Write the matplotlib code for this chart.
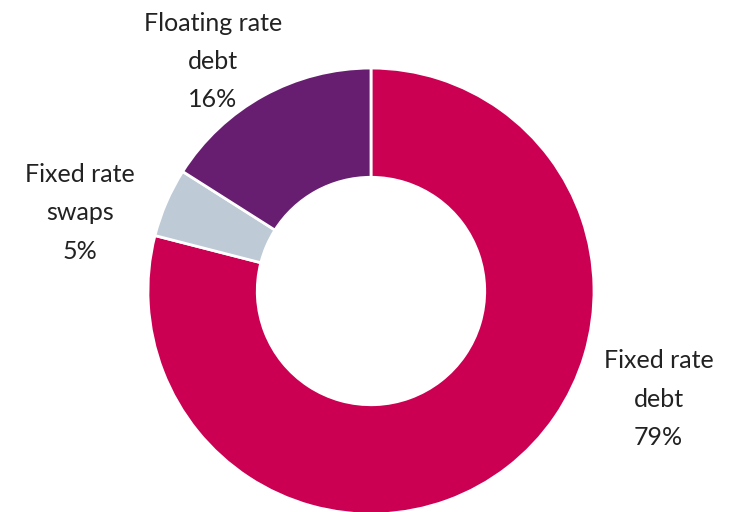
import matplotlib
matplotlib.use("Agg")
import matplotlib.pyplot as plt

# Debt mix (share of total, %)
labels = ["Fixed rate\ndebt", "Fixed rate\nswaps", "Floating rate\ndebt"]
shares = [79, 5, 16]
colors = ["#CC0052", "#BECAD5", "#671E71"]

# label anchor points (data units, pie radius = 1)
label_pos = [(1.29, -0.485), (-1.305, 0.35), (-0.709, 1.03)]

plt.rcParams['font.family'] = ['Lato', 'DejaVu Sans']

fig = plt.figure(figsize=(7.5, 5.12), dpi=100)
ax = fig.add_axes([0.1973, -0.0039, 0.5947, 0.871])

ax.pie(shares, colors=colors, startangle=90, counterclock=False,
       radius=1.0, wedgeprops=dict(width=0.49, edgecolor='white', linewidth=2))
ax.set_xlim(-1, 1)
ax.set_ylim(-1, 1)
ax.set_aspect('auto')
ax.axis('off')

for lab, val, (x, y) in zip(labels, shares, label_pos):
    ax.text(x, y, f"{lab}\n{val}%", ha='center', va='center', fontsize=18,
            color='#222222', linespacing=1.8, clip_on=False)

fig.savefig("out.png", dpi=100)
